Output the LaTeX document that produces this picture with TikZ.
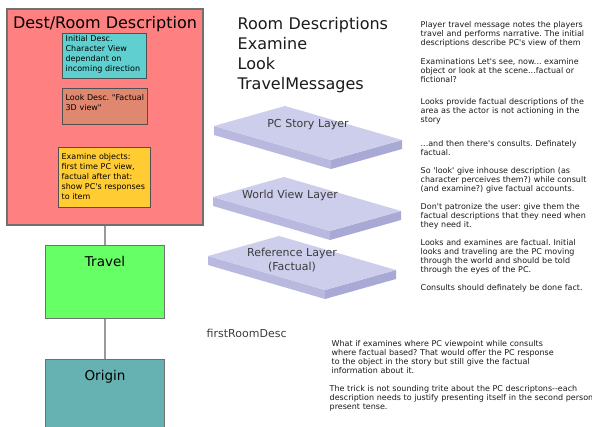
\documentclass[tikz,border=0pt]{standalone}
\usepackage{fontspec}
\setmainfont{DejaVu Sans}[Ligatures=TeXOff]
\frenchspacing
\usetikzlibrary{positioning}
\definecolor{destred}{HTML}{FF8080}
\definecolor{initcyan}{HTML}{5FCFCF}
\definecolor{lookbrown}{HTML}{E0876F}
\definecolor{examyellow}{HTML}{FFCC33}
\definecolor{travelgreen}{HTML}{66FF66}
\definecolor{originteal}{HTML}{66B2B2}
\definecolor{boxgrey}{HTML}{707070}
\definecolor{innergrey}{HTML}{505050}
\definecolor{linkgrey}{HTML}{999999}
\definecolor{slabtop}{HTML}{CDCDEC}
\definecolor{slableft}{HTML}{B9B9E0}
\definecolor{slabright}{HTML}{A9A9D6}
\definecolor{inktext}{HTML}{1A1A1A}
\tikzset{
    dest box/.style = {
        draw = boxgrey,
        line width = 2pt,
        fill = destred,
        anchor = north west,
        minimum width = 196pt,
        inner sep = 0pt,
        text height = 20pt,
        text depth = 196pt,
        font = \fontsize{16}{19}\selectfont,
        },
    desc box/.style = {
        draw = innergrey,
        line width = 1.3pt,
        anchor = north west,
        align = left,
        inner xsep = 3pt,
        inner ysep = 2pt,
        font = \fontsize{8}{10}\selectfont,
        },
    stage box/.style = {
        draw = boxgrey,
        line width = 1.2pt,
        minimum width = 119pt,
        inner sep = 0pt,
        text height = 21pt,
        font = \fontsize{13.5}{16}\selectfont,
        },
    link/.style = {
        draw = linkgrey,
        line width = 1.5pt,
        },
    layer text/.style = {
        anchor = base,
        align = center,
        text width = 130pt,
        inner sep = 0pt,
        text = inktext!85,
        font = \fontsize{11}{14}\selectfont,
        },
    heading/.style = {
        anchor = base west,
        align = left,
        text width = 170pt,
        inner sep = 0pt,
        text = inktext,
        font = \fontsize{16}{20}\selectfont,
        },
    note/.style = {
        anchor = base west,
        align = left,
        text width = 270pt,
        inner sep = 0pt,
        text = inktext,
        font = \fontsize{8}{9}\selectfont,
        },
    layer slab/.pic = {
        \fill[slableft] (0,0) -- (0,9) -- (117,43) -- (117,34) -- cycle;
        \fill[slabright] (117,34) -- (117,43) -- (188,23) -- (188,14) -- cycle;
        \fill[slabtop] (0,0) -- (71,-20) -- (188,14) -- (117,34) -- cycle;
        },
}
\begin{document}
\begin{tikzpicture}[x=1pt, y=-1pt]
    \useasboundingbox (0,0) rectangle (592,427);

    % left column
    \node[dest box] (dest) at (6,8) {Dest/Room Description};
    \node[desc box, fill=initcyan, text width=78pt, text height=6pt, text depth=35pt] (initial) at (62,33)
        {Initial Desc.\\Character View\\dependant on\\incoming direction};
    \node[desc box, fill=lookbrown, text width=79pt, text height=9.5pt, text depth=22.5pt] (look) at (62,88)
        {Look Desc. "Factual\\3D view"};
    \node[desc box, fill=examyellow, text width=86pt, text height=9.5pt, text depth=46.5pt] (examine) at (58,147)
        {Examine objects:\\first time PC view,\\factual after that:\\show PC's responses\\to item};
    \node[stage box, fill=travelgreen, text depth=52pt, below=19pt of dest] (travel) {Travel};
    \node[stage box, fill=originteal, text depth=57pt, below=40pt of travel] (origin) {Origin};

    \path (dest) edge[link] (travel);
    \path (travel) edge[link] (origin);

    % layers
    \pic at (214,126) {layer slab};
    \pic at (213,197) {layer slab};
    \pic at (208,256) {layer slab};
    \node[layer text] (pcstory) at (308,128) {PC Story Layer};
    \node[layer text] (worldview) at (290,199) {World View Layer};
    \node[layer text] (reference) at (292,257) {Reference Layer\\(Factual)};
    \node[layer text, anchor=base west, align=left] (firstdesc) at (206.5,338) {firstRoomDesc};

    % notes
    \node[heading] (topics) at (237.5,29.5) {Room Descriptions\\Examine\\Look\\TravelMessages};
    \node[note] (travelnote) at (420.5,27.5)
        {Player travel message notes the players\\travel and performs narrative. The initial\\descriptions describe PC's view of them};
    \node[note] (examnote) at (420.5,64.5)
        {Examinations Let's see, now... examine\\object or look at the scene...factual or\\fictional?};
    \node[note] (looknote) at (420.5,105)
        {Looks provide factual descriptions of the\\area as the actor is not actioning in the\\story};
    \node[note] (consultnote) at (420.5,147)
        {...and then there's consults. Definately\\factual.};
    \node[note] (inhousenote) at (420.5,174)
        {So 'look' give inhouse description (as\\character perceives them?) while consult\\(and examine?) give factual accounts.};
    \node[note] (usernote) at (420.5,210)
        {Don't patronize the user: give them the\\factual descriptions that they need when\\they need it.};
    \node[note] (factnote) at (420.5,246)
        {Looks and examines are factual. Initial\\looks and traveling are the PC moving\\through the world and should be told\\through the eyes of the PC.};
    \node[note] (donenote) at (420.5,291)
        {Consults should definately be done fact.};
    \node[note] (whatifnote) at (331.5,346.5)
        {What if examines where PC viewpoint while consults\\where factual based? That would offer the PC response\\to the object in the story but still give the factual\\information about it.};
    \node[note] (tricknote) at (329.5,392)
        {The trick is not sounding trite about the PC descriptons--each\\description needs to justify presenting itself in the second person\\present tense.};
\end{tikzpicture}
\end{document}
